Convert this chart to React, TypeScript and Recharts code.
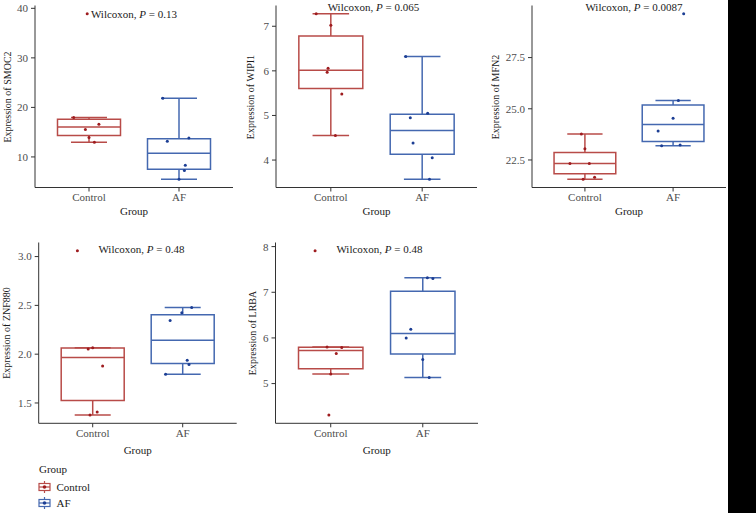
import React from "react";
import { ComposedChart, Scatter, XAxis, YAxis, ReferenceArea, ReferenceLine } from "recharts";

const SERIF = '"Liberation Serif", "Times New Roman", Tinos, "DejaVu Serif", serif';
const GROUPS = ["Control", "AF"];
const LINE = ["#B84B48", "#4468B0"];
const DOT = ["#9E1C1F", "#1C3E94"];

// values, with the jitter offset of each point (category units)
const SMOC2_CONTROL = [38.9, 17.95, 16.6, 15.53, 13.9, 12.97];
const SMOC2_CONTROL_JIT = [-0.02, -0.17, 0.11, -0.04, 0.0, 0.06];
const SMOC2_AF = [21.84, 13.17, 13.83, 8.33, 7.26, 5.5];
const SMOC2_AF_JIT = [-0.18, -0.13, 0.11, 0.07, 0.06, 0.0];

const WIPI1_CONTROL = [7.28, 7.02, 6.06, 5.97, 5.48, 4.55];
const WIPI1_CONTROL_JIT = [-0.16, 0.0, -0.03, -0.04, 0.12, 0.05];
const WIPI1_AF = [6.32, 5.05, 4.95, 4.38, 4.05, 3.57];
const WIPI1_AF_JIT = [-0.18, 0.06, -0.13, -0.1, 0.11, 0.08];

const MFN2_CONTROL = [23.77, 23.05, 22.33, 22.33, 21.66, 21.56];
const MFN2_CONTROL_JIT = [-0.04, 0.0, -0.17, 0.05, 0.11, -0.02];
const MFN2_AF = [29.64, 25.4, 24.54, 23.92, 23.2, 23.23];
const MFN2_AF_JIT = [0.12, 0.06, 0.0, -0.17, -0.13, 0.08];

const ZNF880_CONTROL = [3.06, 2.054, 2.065, 1.88, 1.407, 1.376];
const ZNF880_CONTROL_JIT = [-0.17, -0.05, 0.0, 0.11, 0.05, -0.03];
const ZNF880_AF = [2.479, 2.424, 2.345, 1.938, 1.893, 1.795];
const ZNF880_AF_JIT = [0.1, -0.01, -0.14, 0.05, 0.07, -0.19];

const LRBA_CONTROL = [7.91, 5.8, 5.79, 5.66, 5.21, 4.31];
const LRBA_CONTROL_JIT = [-0.17, -0.04, 0.12, 0.06, 0.0, -0.02];
const LRBA_AF = [7.32, 7.3, 6.19, 6.0, 5.53, 5.135];
const LRBA_AF_JIT = [0.05, 0.11, -0.13, -0.18, 0.0, 0.07];

const SMOC2_TICKS = [10, 20, 30, 40];
const WIPI1_TICKS = [4, 5, 6, 7];
const MFN2_TICKS = [22.5, 25, 27.5];
const ZNF880_TICKS = [1.5, 2, 2.5, 3];
const LRBA_TICKS = [5, 6, 7, 8];

const P_VALUES = ["0.13", "0.065", "0.0087", "0.48", "0.48"];

const PANELS = [
  { gene: "SMOC2", ctl: SMOC2_CONTROL, cj: SMOC2_CONTROL_JIT, af: SMOC2_AF, aj: SMOC2_AF_JIT, ticks: SMOC2_TICKS, dec: 0,
    left: 0, top: 0, width: 240, x0: 35, x1: 233, y0: 5.5, y1: 187.5, titleX: 7, groupY: 211, px: 134, py: 13.5 },
  { gene: "WIPI1", ctl: WIPI1_CONTROL, cj: WIPI1_CONTROL_JIT, af: WIPI1_AF, aj: WIPI1_AF_JIT, ticks: WIPI1_TICKS, dec: 0,
    left: 240, top: 0, width: 245, x0: 276, x1: 477, y0: 5.5, y1: 187.5, titleX: 250, groupY: 211, px: 373.5, py: 7 },
  { gene: "MFN2", ctl: MFN2_CONTROL, cj: MFN2_CONTROL_JIT, af: MFN2_AF, aj: MFN2_AF_JIT, ticks: MFN2_TICKS, dec: 1,
    left: 480, top: 0, width: 248, x0: 532, x1: 726, y0: 5.5, y1: 187.5, titleX: 495, groupY: 211, px: 634, py: 7 },
  { gene: "ZNF880", ctl: ZNF880_CONTROL, cj: ZNF880_CONTROL_JIT, af: ZNF880_AF, aj: ZNF880_AF_JIT, ticks: ZNF880_TICKS, dec: 1,
    left: 0, top: 240, width: 240, x0: 38.7, x1: 236.7, y0: 242.5, y1: 423.3, titleX: 6, groupY: 450, px: 141.5, py: 249 },
  { gene: "LRBA", ctl: LRBA_CONTROL, cj: LRBA_CONTROL_JIT, af: LRBA_AF, aj: LRBA_AF_JIT, ticks: LRBA_TICKS, dec: 0,
    left: 240, top: 240, width: 245, x0: 275.5, x1: 478, y0: 242.5, y1: 423.3, titleX: 251.7, groupY: 450, px: 379.5, py: 249 },
];

const CHART_H = 225;
const BOX_HALF = 0.35;
const CAP_HALF = 0.2;

function quantile(s: number[], p: number) {
  const h = (s.length - 1) * p;
  const lo = Math.floor(h);
  const next = lo + 1 < s.length ? s[lo + 1] : s[lo];
  return s[lo] + (h - lo) * (next - s[lo]);
}

function boxStats(vals: number[]) {
  const s = [...vals].sort((a, b) => a - b);
  const q1 = quantile(s, 0.25), med = quantile(s, 0.5), q3 = quantile(s, 0.75);
  const iqr = q3 - q1;
  const inside = s.filter((v) => v >= q1 - 1.5 * iqr && v <= q3 + 1.5 * iqr);
  return { q1, med, q3, lo: inside[0], hi: inside[inside.length - 1] };
}

function Panel({ p, idx }: { p: any; idx: number }) {
  const all = [...p.ctl, ...p.af];
  const mn = Math.min(...all), mx = Math.max(...all), pad = (mx - mn) * 0.05;
  const groups = [
    { g: 1, vals: p.ctl, jit: p.cj },
    { g: 2, vals: p.af, jit: p.aj },
  ];
  const bottom = p.top + CHART_H;
  const axisTick = { fill: "#4d4d4d", fontSize: 11, fontFamily: SERIF };

  return (
    <>
      <div style={{ position: "absolute", left: p.left, top: p.top }}>
        <ComposedChart width={p.width} height={CHART_H}
          margin={{ top: p.y0 - p.top, right: p.left + p.width - p.x1, left: 0, bottom: 0 }}>
          <XAxis type="number" dataKey="x" domain={[0.4, 2.6]} ticks={[1, 2]} allowDataOverflow
            tickFormatter={(v: number) => GROUPS[v - 1]} height={bottom - p.y1}
            tickSize={4} tickMargin={1.5} tick={axisTick} stroke="#333"
            label={{ value: "Group", position: "insideBottom", offset: bottom - (p.groupY + 3.6), fill: "#1a1a1a", fontSize: 11, fontFamily: SERIF }} />
          <YAxis type="number" dataKey="y" domain={[mn - pad, mx + pad]} ticks={p.ticks} allowDataOverflow
            tickFormatter={(v: number) => v.toFixed(p.dec)} width={p.x0 - p.left}
            tickSize={4} tickMargin={3} tick={axisTick} stroke="#333" />
          {groups.map((gr, i) => {
            const st = boxStats(gr.vals);
            const c = LINE[i];
            return [
              <ReferenceLine key={`wu${i}`} segment={[{ x: gr.g, y: st.q3 }, { x: gr.g, y: st.hi }]} stroke={c} strokeWidth={1.5} />,
              <ReferenceLine key={`wl${i}`} segment={[{ x: gr.g, y: st.q1 }, { x: gr.g, y: st.lo }]} stroke={c} strokeWidth={1.5} />,
              <ReferenceLine key={`cu${i}`} segment={[{ x: gr.g - CAP_HALF, y: st.hi }, { x: gr.g + CAP_HALF, y: st.hi }]} stroke={c} strokeWidth={1.5} />,
              <ReferenceLine key={`cl${i}`} segment={[{ x: gr.g - CAP_HALF, y: st.lo }, { x: gr.g + CAP_HALF, y: st.lo }]} stroke={c} strokeWidth={1.5} />,
              <ReferenceArea key={`b${i}`} x1={gr.g - BOX_HALF} x2={gr.g + BOX_HALF} y1={st.q1} y2={st.q3}
                fill="#fff" fillOpacity={0} stroke={c} strokeWidth={1.5} strokeOpacity={1} />,
              <ReferenceLine key={`m${i}`} segment={[{ x: gr.g - BOX_HALF, y: st.med }, { x: gr.g + BOX_HALF, y: st.med }]} stroke={c} strokeWidth={1.5} />,
            ];
          })}
          {groups.map((gr, i) => (
            <Scatter key={`s${i}`} data={gr.vals.map((v: number, k: number) => ({ x: gr.g + gr.jit[k], y: v }))}
              isAnimationActive={false}
              shape={(sp: any) => <circle cx={sp.cx} cy={sp.cy} r={1.5} fill={DOT[i]} />} />
          ))}
        </ComposedChart>
      </div>
      <div style={{ position: "absolute", left: p.titleX, top: (p.y0 + p.y1) / 2, transform: "translate(-50%, -50%) rotate(-90deg)",
        whiteSpace: "nowrap", fontFamily: SERIF, fontSize: 10, color: "#1a1a1a" }}>
        Expression of {p.gene}
      </div>
      <div style={{ position: "absolute", left: p.px, top: p.py, transform: "translate(-50%, -50%)",
        whiteSpace: "nowrap", fontFamily: SERIF, fontSize: 11, color: "#1a1a1a" }}>
        Wilcoxon, <i>P</i> = {P_VALUES[idx]}
      </div>
    </>
  );
}

function LegendKey({ i }: { i: number }) {
  return (
    <svg width={13} height={12} style={{ display: "block" }}>
      <line x1={6.5} y1={0} x2={6.5} y2={12} stroke={LINE[i]} strokeWidth={1.2} />
      <rect x={1} y={2.5} width={11} height={7} fill="#fff" stroke={LINE[i]} strokeWidth={1.2} />
      <line x1={1} y1={6} x2={12} y2={6} stroke={LINE[i]} strokeWidth={1.2} />
      <circle cx={6.5} cy={6} r={1.8} fill={DOT[i]} />
    </svg>
  );
}

export default function App() {
  return (
    <div style={{ position: "absolute", left: 0, top: 0, width: 756, height: 513, background: "#fff", overflow: "hidden" }}>
      {PANELS.map((p, i) => <Panel key={p.gene} p={p} idx={i} />)}

      {/* legend */}
      <div style={{ position: "absolute", left: 39, top: 463, fontFamily: SERIF, fontSize: 11, color: "#1a1a1a" }}>Group</div>
      {GROUPS.map((g, i) => (
        <div key={g} style={{ position: "absolute", left: 37.5, top: 480.5 + i * 16.6, display: "flex", alignItems: "center", gap: 6 }}>
          <LegendKey i={i} />
          <span style={{ fontFamily: SERIF, fontSize: 11, color: "#1a1a1a" }}>{g}</span>
        </div>
      ))}

      <div style={{ position: "absolute", left: 728, top: 0, width: 28, height: 513, background: "#000" }} />
    </div>
  );
}
